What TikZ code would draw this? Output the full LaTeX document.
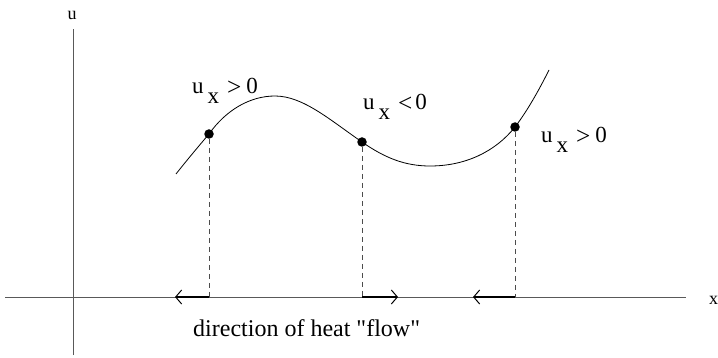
\documentclass[tikz,border=0pt]{standalone}
\usepackage{fontspec}
\setmainfont{Liberation Serif}[Ligatures=TeXOff]
\usetikzlibrary{arrows.meta}
\newcommand{\ptlabel}[2]{u\hspace{4pt}\raisebox{-10pt}{x}\hspace{8pt}\raisebox{-1.5pt}{\scalebox{1.1}{#1}}\hspace{#2}0}
\begin{document}
\begin{tikzpicture}[x=1pt,y=-1pt,
  axis/.style={draw=black!65, line width=0.9pt},
  curve/.style={draw=black, line width=0.8pt},
  dot/.style={circle, fill=black, inner sep=0pt, minimum size=9.5pt},
  drop/.style={draw=black!70, dash pattern=on 5pt off 4pt, line width=0.8pt},
  flow/.style={draw=black, line width=1.3pt, -{Straight Barb[length=6pt,width=14pt,line width=1pt]}},
  lbl/.style={font=\fontsize{23}{25}\selectfont, inner sep=0pt, anchor=base west},
  axlbl/.style={font=\fontsize{18}{20}\selectfont, inner sep=0pt},
  every node/.style={inner sep=0pt}]
\useasboundingbox (0,0) rectangle (718,358);
% axes
\coordinate (xs) at (5,297);
\coordinate (xe) at (686,297);
\coordinate (ys) at (73,355);
\coordinate (ye) at (73,29);
\draw[axis] (xs) -- (xe);
\draw[axis] (ys) -- (ye);
\node[axlbl, anchor=base west] (xl) at (709,305) {x};
\node[axlbl, anchor=base] (ul) at (72,20) {u};
% points
\node[dot] (p1) at (209,134) {};
\node[dot] (p2) at (362,142) {};
\node[dot] (p3) at (515,127) {};
% curve
\draw[curve] (176,174) .. controls (187,160) and (198,147) .. (p1.center)
  .. controls (226,110) and (250,96) .. (275,96)
  .. controls (303,96) and (330,120) .. (p2.center)
  .. controls (385,158) and (405,166) .. (430,166)
  .. controls (465,166) and (495,152) .. (p3.center)
  .. controls (528,110) and (540,88) .. (549,70);
\coordinate (a1) at (209,297);
\coordinate (a2) at (362,297);
\coordinate (a3) at (515,297);
\draw[drop] (p1) -- (a1);
\draw[drop] (p2) -- (a2);
\draw[drop] (p3) -- (a3);
\coordinate (t1) at (175,297);
\coordinate (t2) at (398,297);
\coordinate (t3) at (473,297);
\draw[flow] (a1) -- (t1);
\draw[flow] (a2) -- (t2);
\draw[flow] (a3) -- (t3);
% labels
\node[lbl] (l1) at (192,94) {\ptlabel{>}{5pt}};
\node[lbl] (l2) at (363,110) {\ptlabel{<}{3pt}};
\node[lbl] (l3) at (541,143) {\ptlabel{>}{5pt}};
\node[lbl, font=\fontsize{24}{26}\selectfont, anchor=base west] (cap) at (193,337) {direction of heat "flow"};
\end{tikzpicture}
\end{document}
